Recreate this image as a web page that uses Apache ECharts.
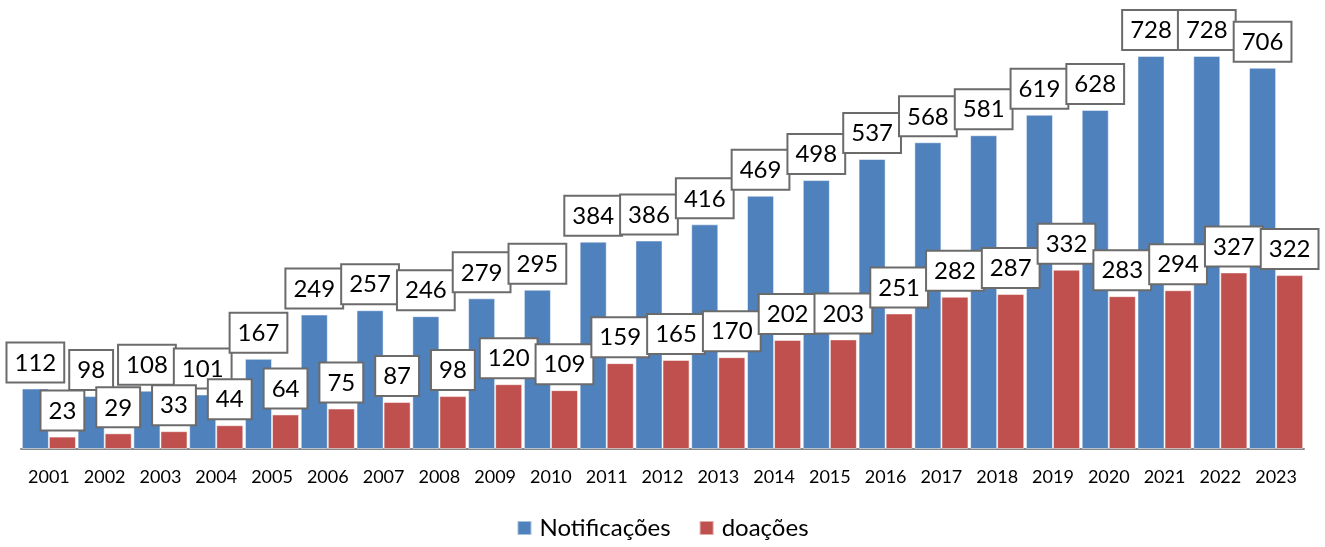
<!DOCTYPE html>
<html>
<head>
<meta charset="utf-8">
<script src="https://cdn.jsdelivr.net/npm/echarts@6/dist/echarts.min.js"></script>
<style>
html,body{margin:0;padding:0;background:#fff;}
#chart{width:1325px;height:547px;}
</style>
</head>
<body>
<div id="chart"></div>
<script>
const categories = ['2001','2002','2003','2004','2005','2006','2007','2008','2009','2010','2011','2012','2013','2014','2015','2016','2017','2018','2019','2020','2021','2022','2023'];
const notificacoes = [112, 98, 108, 101, 167, 249, 257, 246, 279, 295, 384, 386, 416, 469, 498, 537, 568, 581, 619, 628, 728, 728, 706];
const doacoes = [23, 29, 33, 44, 64, 75, 87, 98, 120, 109, 159, 165, 170, 202, 203, 251, 282, 287, 332, 283, 294, 327, 322];
const seriesNames = ['Notificações', 'doações'];

const FONT = 'Lato, "Open Sans", sans-serif';
const labelStyle = {
  show: true,
  position: 'top',
  distance: 7,
  color: '#000',
  fontFamily: FONT,
  fontSize: 24,
  lineHeight: 29,
  backgroundColor: '#fff',
  borderColor: '#6b6b6b',
  borderWidth: 2,
  padding: [5, 7, 4, 7]
};

const chart = echarts.init(document.getElementById('chart'));
chart.setOption({
  animation: false,
  textStyle: { fontFamily: FONT },
  grid: { left: 21, right: 21, top: 17, bottom: 98, containLabel: false },
  legend: {
    bottom: 2,
    left: 'center',
    icon: 'rect',
    itemWidth: 14,
    itemHeight: 14,
    itemGap: 28,
    textStyle: { fontFamily: FONT, fontSize: 24, color: '#000', padding: [0, 0, 0, 3] },
    data: seriesNames
  },
  xAxis: {
    type: 'category',
    data: categories,
    axisLine: { lineStyle: { color: '#868686', width: 2 } },
    axisTick: { show: false },
    axisLabel: { color: '#000', fontFamily: FONT, fontSize: 18, margin: 19, interval: 0 }
  },
  yAxis: {
    type: 'value',
    min: 0,
    max: 800,
    show: false,
    splitLine: { show: false }
  },
  series: [
    {
      name: seriesNames[0],
      type: 'bar',
      data: notificacoes,
      barGap: '0%',
      barCategoryGap: '3%',
      itemStyle: { color: '#4F81BD', borderColor: 'rgba(255,255,255,0.5)', borderWidth: 1 },
      label: labelStyle,
      z: 2
    },
    {
      name: seriesNames[1],
      type: 'bar',
      data: doacoes,
      barGap: '0%',
      barCategoryGap: '3%',
      itemStyle: { color: '#C0504D', borderColor: 'rgba(255,255,255,0.5)', borderWidth: 1 },
      label: labelStyle,
      z: 3
    }
  ]
});
</script>
</body>
</html>
